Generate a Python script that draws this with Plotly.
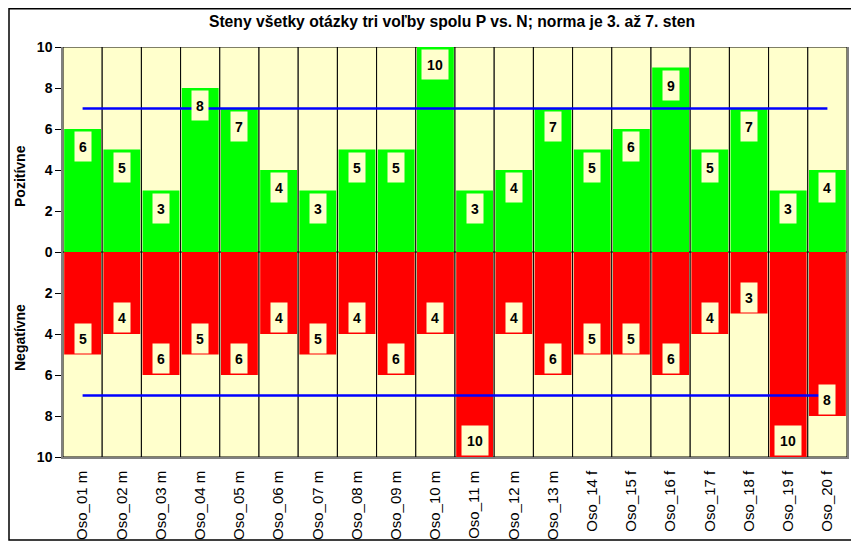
import plotly.graph_objects as go
from plotly.subplots import make_subplots

categories = ["Oso_01 m", "Oso_02 m", "Oso_03 m", "Oso_04 m", "Oso_05 m", "Oso_06 m",
              "Oso_07 m", "Oso_08 m", "Oso_09 m", "Oso_10 m", "Oso_11 m", "Oso_12 m",
              "Oso_13 m", "Oso_14 f", "Oso_15 f", "Oso_16 f", "Oso_17 f", "Oso_18 f",
              "Oso_19 f", "Oso_20 f"]
positive = [6, 5, 3, 8, 7, 4, 3, 5, 5, 10, 3, 4, 7, 5, 6, 9, 5, 7, 3, 4]
negative = [5, 4, 6, 5, 6, 4, 5, 4, 6, 4, 10, 4, 6, 5, 5, 6, 4, 3, 10, 8]
scale_max = 10
norm_upper = 7
title = "Steny všetky otázky tri voľby spolu P vs. N; norma je 3. až 7. sten"
pos_title = "Pozitívne"
neg_title = "Negatívne"

FONT = "Liberation Sans, Arial, sans-serif"
BG = "#FFFFCC"

# page body has an 8px margin, so the figure is laid out 8px smaller
W, H = 851, 534
L, T, PW, PH = 55, 39, 784, 410

fig = make_subplots(rows=2, cols=1, shared_xaxes=True, vertical_spacing=0)

for row, vals, col in [(1, positive, "#00FF00"), (2, negative, "#FF0000")]:
    fig.add_trace(go.Bar(x=categories, y=[scale_max] * len(categories), width=1,
                         marker=dict(color=BG, line=dict(color="black", width=1)),
                         hoverinfo="skip", showlegend=False), row=row, col=1)
    fig.add_trace(go.Bar(x=categories, y=vals, width=0.94,
                         marker=dict(color=col, line=dict(width=0)),
                         showlegend=False), row=row, col=1)
    fig.add_trace(go.Scatter(x=categories, y=[norm_upper] * len(categories), mode="lines",
                             line=dict(color="#0000FF", width=2.5), showlegend=False,
                             hoverinfo="skip"), row=row, col=1)

annotations = []
for c, v in zip(categories, positive):
    annotations.append(dict(x=c, y=v, xref="x", yref="y", text="<b>%d</b>" % v,
                            showarrow=False, yanchor="top", yshift=-2,
                            width=14 if v < 10 else 24, height=27, bgcolor=BG,
                            font=dict(family=FONT, size=14, color="black")))
for c, v in zip(categories, negative):
    annotations.append(dict(x=c, y=v, xref="x2", yref="y2", text="<b>%d</b>" % v,
                            showarrow=False, yanchor="bottom", yshift=1,
                            width=14 if v < 10 else 24, height=27, bgcolor=BG,
                            font=dict(family=FONT, size=14, color="black")))
for txt, yc in [(pos_title, 168), (neg_title, 330)]:
    annotations.append(dict(x=(12 - L) / PW, y=(T + PH - yc) / PH, xref="paper", yref="paper",
                            text="<b>%s</b>" % txt, textangle=-90, showarrow=False,
                            xanchor="center", yanchor="middle",
                            font=dict(family=FONT, size=14, color="black")))

fig.update_layout(
    barmode="overlay",
    width=W, height=H,
    margin=dict(l=L, r=W - L - PW, t=T, b=H - T - PH, autoexpand=False),
    paper_bgcolor="white", plot_bgcolor="white",
    font=dict(family=FONT, color="black"),
    title=dict(text="<b>%s</b>" % title, x=(444 - L) / PW * (PW / W) + L / W, xanchor="center",
               y=1 - 14 / H, yanchor="middle", font=dict(size=15.7, family=FONT), automargin=False),
    annotations=annotations,
    shapes=[dict(type="rect", xref="paper", yref="paper",
                 x0=(1 - L) / PW, x1=(848 - L) / PW,
                 y0=(T + PH - 532) / PH, y1=(T + PH - 0.75) / PH,
                 line=dict(color="black", width=1.5), fillcolor="rgba(0,0,0,0)", layer="above")],
)

fig.update_xaxes(showgrid=False, zeroline=False, showline=True, linecolor="black", linewidth=1.5,
                 ticks="", showticklabels=False, automargin=False, row=1, col=1)
fig.update_xaxes(showgrid=False, zeroline=False, showline=True, linecolor="#808080", linewidth=1.5,
                 ticks="", tickangle=-90, tickfont=dict(size=15, family=FONT), automargin=False,
                 ticklabelstandoff=6, row=2, col=1)
common_y = dict(showgrid=False, zeroline=False, showline=True, linecolor="#808080", linewidth=1.5,
                mirror=True, ticks="outside", ticklen=6, tickcolor="black", automargin=False,
                tickfont=dict(size=14, family=FONT, weight="bold"))
fig.update_yaxes(range=[0, scale_max], tickvals=[0, 2, 4, 6, 8, 10], row=1, col=1, **common_y)
fig.update_yaxes(range=[scale_max, 0], tickvals=[2, 4, 6, 8, 10], row=2, col=1, **common_y)

fig.write_html("out.html")
